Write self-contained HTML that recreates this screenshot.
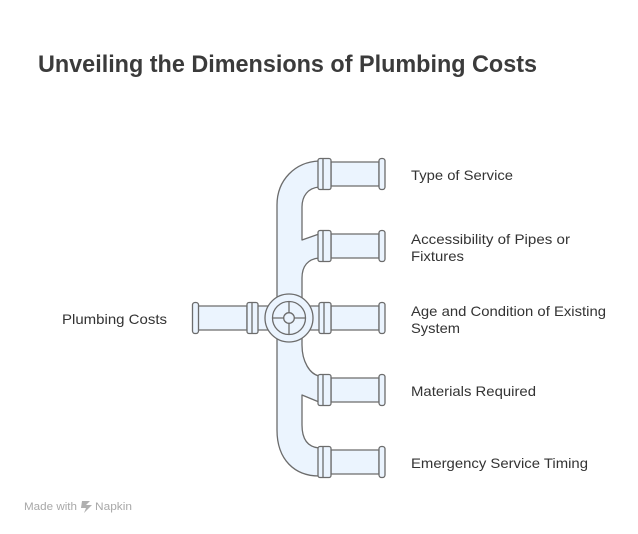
<!DOCTYPE html>
<html><head><meta charset="utf-8"><style>
html,body{margin:0;padding:0;background:#fff;}
svg{display:block;}
</style></head><body>
<svg width="638" height="534" viewBox="0 0 638 534" xmlns="http://www.w3.org/2000/svg">
<rect width="638" height="534" fill="#fff"/>
<text x="38" y="72" font-family="Liberation Sans, Arial, sans-serif" font-weight="bold" font-size="24" fill="#3b3b3b" textLength="499" lengthAdjust="spacingAndGlyphs">Unveiling the Dimensions of Plumbing Costs</text>

<g stroke="#6c6c6c" stroke-width="1.3" fill="#ebf4fe" stroke-linejoin="round">
<!-- manifold -->
<path d="M277,205 C277,180 295,162 319,161 L319,187 C308,188 302,196 302,207 L302,240 L319,234 L319,258 C308,259 302,266 302,278 L302,345 C302,362 310,374 319,376 L319,402 L302,395 L302,425 C302,440 308,447 319,448 L319,476 C295,476 277,460 277,430 Z"/>

<!-- rows right -->
<g id="r1">
<rect x="331" y="162" width="48" height="24"/>
<rect x="318" y="158.5" width="13" height="31" rx="2"/>
<line x1="323" y1="158.5" x2="323" y2="189.5"/>
<rect x="379" y="158.5" width="6" height="31" rx="2.5"/>
</g>
<g>
<rect x="331" y="234" width="48" height="24"/>
<rect x="318" y="230.5" width="13" height="31" rx="2"/>
<line x1="323" y1="230.5" x2="323" y2="261.5"/>
<rect x="379" y="230.5" width="6" height="31" rx="2.5"/>
</g>
<g>
<rect x="331" y="378" width="48" height="24"/>
<rect x="318" y="374.5" width="13" height="31" rx="2"/>
<line x1="323" y1="374.5" x2="323" y2="405.5"/>
<rect x="379" y="374.5" width="6" height="31" rx="2.5"/>
</g>
<g>
<rect x="331" y="450" width="48" height="24"/>
<rect x="318" y="446.5" width="13" height="31" rx="2"/>
<line x1="323" y1="446.5" x2="323" y2="477.5"/>
<rect x="379" y="446.5" width="6" height="31" rx="2.5"/>
</g>
<!-- middle row -->
<rect x="305" y="306" width="20" height="24"/>
<rect x="331" y="306" width="48" height="24"/>
<rect x="319" y="302.5" width="12" height="31" rx="2"/>
<line x1="324" y1="302.5" x2="324" y2="333.5"/>
<rect x="379" y="302.5" width="6" height="31" rx="2.5"/>

<rect x="255" y="306" width="14" height="24"/>
<rect x="198" y="306" width="49" height="24"/>
<rect x="247" y="302.5" width="11" height="31" rx="2"/>
<line x1="252" y1="302.5" x2="252" y2="333.5"/>
<rect x="192.5" y="302.5" width="6" height="31" rx="2.5"/>

<!-- valve -->
<circle cx="289" cy="318" r="24"/>
<circle cx="289" cy="318" r="16.5"/>
<line x1="272.5" y1="318" x2="305.5" y2="318"/>
<line x1="289" y1="301.5" x2="289" y2="334.5"/>
<circle cx="289" cy="318" r="5.3"/>
</g>

<g font-family="Liberation Sans, Arial, sans-serif" font-size="14" fill="#333">
<text x="411" y="180" textLength="102" lengthAdjust="spacingAndGlyphs">Type of Service</text>
<text x="411" y="244" textLength="159" lengthAdjust="spacingAndGlyphs">Accessibility of Pipes or</text>
<text x="411" y="261" textLength="53" lengthAdjust="spacingAndGlyphs">Fixtures</text>
<text x="411" y="316" textLength="195" lengthAdjust="spacingAndGlyphs">Age and Condition of Existing</text>
<text x="411" y="333" textLength="49" lengthAdjust="spacingAndGlyphs">System</text>
<text x="411" y="396" textLength="125" lengthAdjust="spacingAndGlyphs">Materials Required</text>
<text x="411" y="468" textLength="177" lengthAdjust="spacingAndGlyphs">Emergency Service Timing</text>
<text x="62" y="324" textLength="105" lengthAdjust="spacingAndGlyphs">Plumbing Costs</text>
</g>

<g fill="#a8a8a8" font-family="Liberation Sans, Arial, sans-serif" font-size="11">
<text x="24" y="510" textLength="53" lengthAdjust="spacingAndGlyphs">Made with</text>
<path d="M82,501 L90,501 L86,505 L92,505 L84,513 L86,508 L81,508 Z" fill="#b0b0b0"/>
<text x="95" y="510" textLength="37" lengthAdjust="spacingAndGlyphs">Napkin</text>
</g>
</svg>
</body></html>
